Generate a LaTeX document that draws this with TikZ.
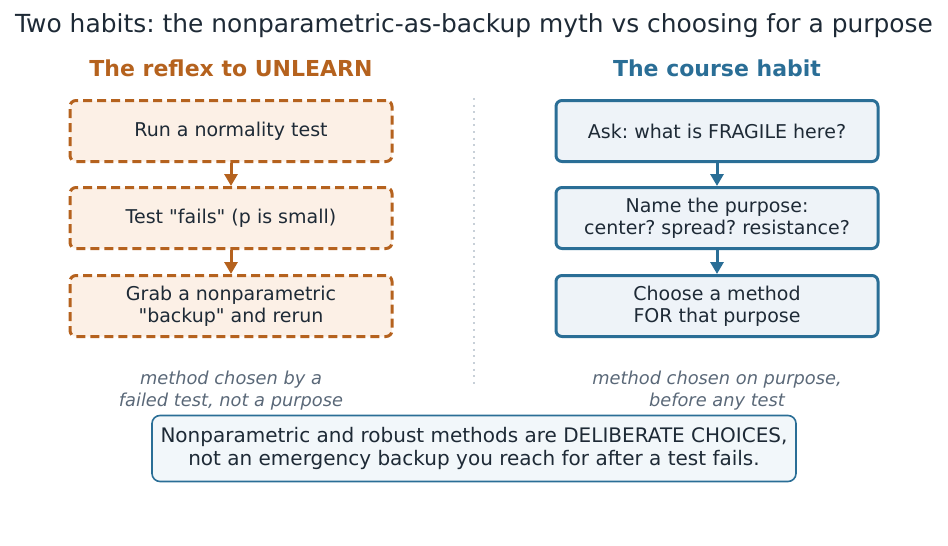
\documentclass[tikz,border=0pt]{standalone}
\usepackage{fontspec}
\setmainfont{DejaVu Sans}
\newfontfamily\dvs{DejaVu Sans}
\usetikzlibrary{arrows.meta}
\frenchspacing
\newcommand\dq{\char"0022\relax}
\definecolor{orng}{HTML}{B5621E}
\definecolor{orngfill}{HTML}{FCF0E6}
\definecolor{blu}{HTML}{2A6E96}
\definecolor{blufill}{HTML}{EEF3F8}
\definecolor{botfill}{HTML}{F2F7FA}
\definecolor{txt}{HTML}{1E2A36}
\definecolor{cap}{HTML}{5A6878}
\definecolor{sep}{HTML}{C8D0D8}
\tikzset{
  leftbox/.style={draw=orng, fill=orngfill, line width=3pt, dash pattern=on 9pt off 5pt, rounded corners=6pt, minimum width=322pt, minimum height=61pt, align=center, text=txt, font=\dvs\frenchspacing\fontsize{19}{22}\selectfont},
  rightbox/.style={draw=blu, fill=blufill, line width=3pt, rounded corners=6pt, minimum width=322pt, minimum height=61pt, align=center, text=txt, font=\dvs\frenchspacing\fontsize{19}{22}\selectfont},
  leftarr/.style={draw=orng, line width=3pt, -{Triangle[length=12pt,width=13pt]}},
  rightarr/.style={draw=blu, line width=3pt, -{Triangle[length=12pt,width=13pt]}},
  captxt/.style={text=cap, align=center, font=\dvs\frenchspacing\fontsize{17.8}{22}\selectfont\itshape},
  header/.style={font=\dvs\frenchspacing\fontsize{22}{26}\selectfont\bfseries},
}
\begin{document}
\begin{tikzpicture}[x=1pt,y=-1pt]
\useasboundingbox (0,0) rectangle (948,546);
\node[text=txt, font=\dvs\frenchspacing\fontsize{24.9}{28}\selectfont] (title) at (474,26) {Two habits: the nonparametric-as-backup myth vs choosing for a purpose};
\node[header, text=orng] (hl) at (231,68) {The reflex to UNLEARN};
\node[header, text=blu] (hr) at (717,68) {The course habit};
\coordinate (st) at (474,98);
\coordinate (sb) at (474,385);
\draw[sep, line width=2pt, dash pattern=on 2pt off 4.6pt] (st) -- (sb);
\node[leftbox] (l1) at (231,131) {Run a normality test};
\node[leftbox] (l2) at (231,218) {Test \dq fails\dq\ (p is small)};
\node[leftbox] (l3) at (231,306) {Grab a nonparametric\\\dq backup\dq\ and rerun};
\node[rightbox] (r1) at (717,131) {Ask: what is FRAGILE here?};
\node[rightbox] (r2) at (717,218) {Name the purpose:\\center? spread? resistance?};
\node[rightbox] (r3) at (717,306) {Choose a method\\FOR that purpose};
\draw[leftarr] (l1.south) -- (l2.north);
\draw[leftarr] (l2.south) -- (l3.north);
\draw[rightarr] (r1.south) -- (r2.north);
\draw[rightarr] (r2.south) -- (r3.north);
\node[captxt] (cl) at (231,391) {method chosen by a\\failed test, not a purpose};
\node[captxt] (cr) at (717,391) {method chosen on purpose,\\before any test};
\node[draw=blu, fill=botfill, line width=1.6pt, rounded corners=8pt, minimum width=644pt, minimum height=66pt, align=center, text=txt, font=\dvs\frenchspacing\fontsize{20}{23}\selectfont] (bot) at (474,448.5) {Nonparametric and robust methods are DELIBERATE CHOICES,\\not an emergency backup you reach for after a test fails.};
\end{tikzpicture}
\end{document}
